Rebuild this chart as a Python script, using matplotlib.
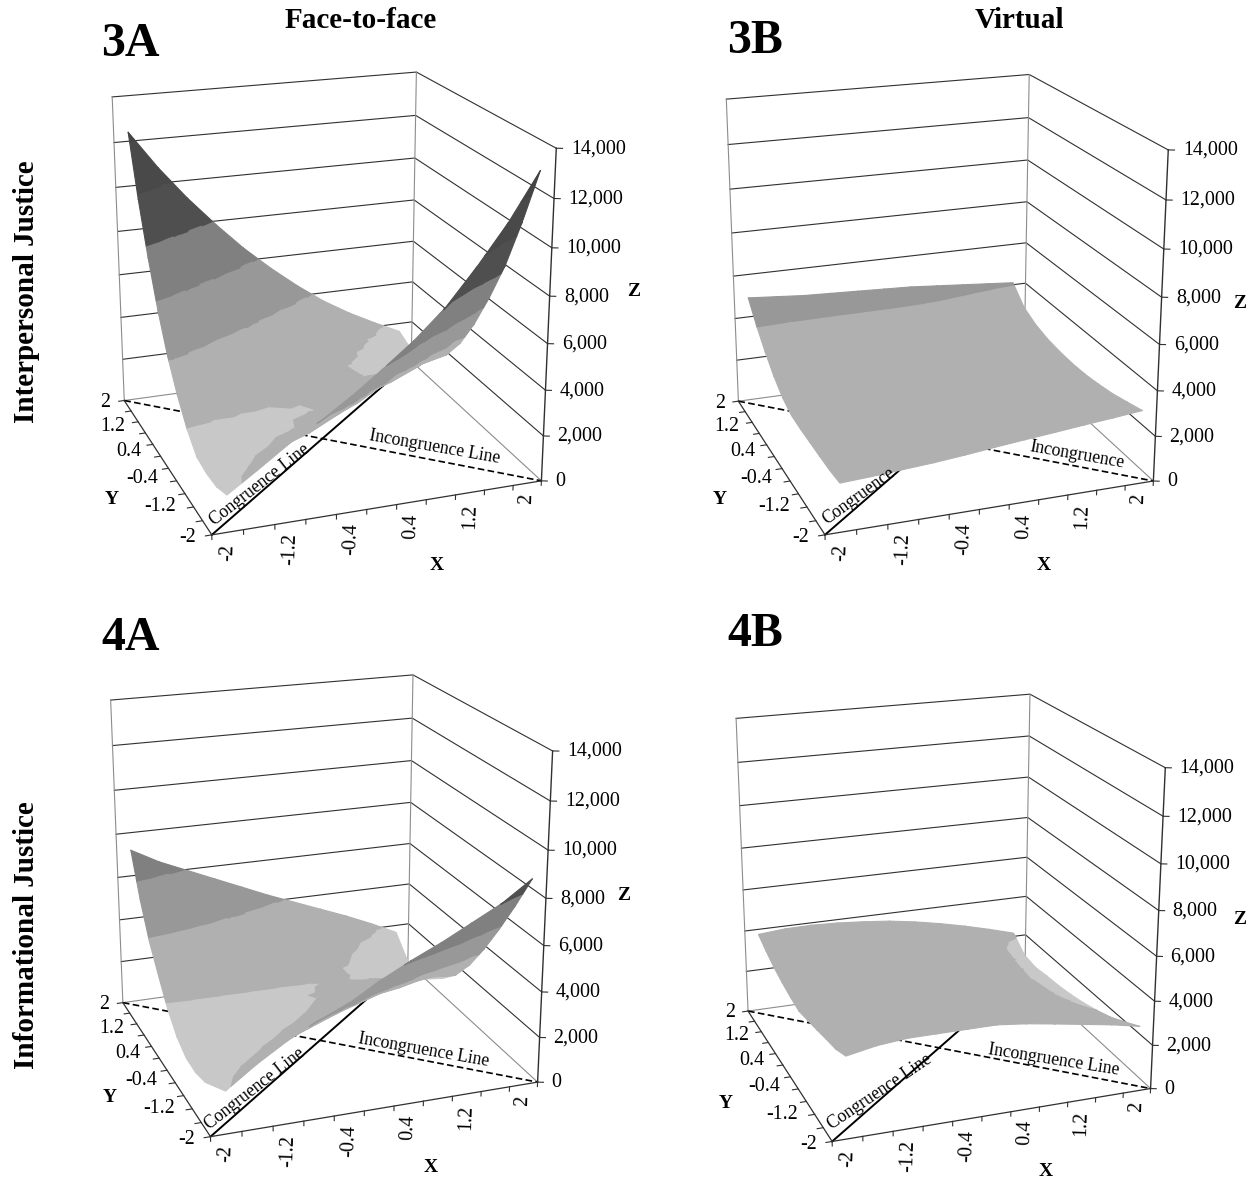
import numpy as np
import matplotlib
matplotlib.use("Agg")
import matplotlib.pyplot as plt
from mpl_toolkits.mplot3d import proj3d
from mpl_toolkits.mplot3d.art3d import Poly3DCollection

plt.rcParams["font.family"] = ["Liberation Serif", "DejaVu Serif"]

W, H = 1254, 1181

# Data
x_vals = [-2, -1.6, -1.2, -0.8, -0.4, 0, 0.4, 0.8, 1.2, 1.6, 2]
# the series axis runs corner to corner, so y sits on the box edges
y_vals = [-2.2, -1.76, -1.32, -0.88, -0.44, 0, 0.44, 0.88, 1.32, 1.76, 2.2]
axis_labels = ["-2", "-1.2", "-0.4", "0.4", "1.2", "2"]
x_label_vals = [-2, -1.2, -0.4, 0.4, 1.2, 2]
y_label_vals = [-2.2, -1.32, -0.44, 0.44, 1.32, 2.2]
z_ticks = [0, 2000, 4000, 6000, 8000, 10000, 12000, 14000]
z_labels = ["0", "2,000", "4,000", "6,000", "8,000", "10,000", "12,000", "14,000"]
band_colors = ["#c8c8c8", "#b0b0b0", "#989898", "#808080", "#4f4f4f", "#494949", "#444444"]

# rows run y = -2 .. 2, columns x = -2 .. 2
z_3a = [
    [1580, 2450, 3350, 4100, 4950, 5900, 6900, 8080, 9580, 11230, 13180],
    [1290, 1950, 2550, 3000, 3650, 4440, 5440, 6590, 7840, 9190, 10690],
    [1240, 1540, 1990, 2390, 2790, 3340, 4090, 4990, 5990, 7140, 8440],
    [1350, 1450, 1650, 1900, 2250, 2650, 3145, 3745, 4495, 5445, 6595],
    [2000, 1800, 1800, 1800, 1950, 2100, 2395, 2795, 3345, 4045, 4945],
    [2950, 2450, 2200, 2100, 2050, 2100, 2150, 2350, 2650, 3000, 3550],
    [4150, 3450, 2900, 2450, 2250, 2150, 2050, 1990, 2000, 2200, 2500],
    [5700, 4800, 4000, 3300, 2750, 2400, 2150, 1950, 1750, 1700, 1800],
    [7600, 6450, 5400, 4500, 3700, 3050, 2550, 2150, 1850, 1550, 1300],
    [9800, 8400, 7150, 6000, 5000, 4100, 3300, 2650, 2150, 1700, 1250],
    [12400, 10700, 9200, 7850, 6600, 5500, 4500, 3600, 2850, 2200, 1600],
]
z_3b = [
    [2090, 2160, 2250, 2340, 2460, 2600, 2730, 2850, 2980, 3100, 3230],
    [2020, 2080, 2159, 2242, 2353, 2481, 2600, 2706, 2820, 2926, 3040],
    [2010, 2020, 2086, 2161, 2261, 2377, 2485, 2575, 2672, 2762, 2860],
    [2010, 2015, 2061, 2132, 2223, 2328, 2426, 2502, 2586, 2662, 2745],
    [2010, 2010, 2056, 2123, 2207, 2304, 2395, 2459, 2530, 2594, 2665],
    [2050, 2078, 2116, 2179, 2257, 2345, 2428, 2481, 2539, 2592, 2650],
    [2300, 2310, 2329, 2377, 2438, 2506, 2570, 2601, 2635, 2666, 2700],
    [2750, 2728, 2712, 2730, 2758, 2792, 2823, 2816, 2811, 2804, 2800],
    [3350, 3320, 3300, 3300, 3300, 3300, 3280, 3220, 3150, 3070, 3000],
    [4050, 4000, 3970, 3950, 3940, 3930, 3900, 3830, 3700, 3550, 3350],
    [4900, 4800, 4700, 4650, 4600, 4550, 4500, 4400, 4300, 4200, 4100],
]
z_4a = [
    [1830, 2750, 3550, 4200, 4750, 5500, 6150, 6730, 7380, 8030, 8890],
    [1390, 2140, 2740, 3250, 3740, 4250, 4740, 5290, 5890, 6540, 7290],
    [940, 1490, 2100, 2500, 2940, 3340, 3740, 4140, 4640, 5140, 5790],
    [745, 1045, 1595, 2040, 2320, 2650, 2995, 3195, 3495, 3895, 4395],
    [780, 1000, 1250, 1650, 1980, 2200, 2450, 2595, 2745, 2895, 3145],
    [1150, 1250, 1400, 1600, 1800, 2020, 2150, 2250, 2300, 2250, 2150],
    [1850, 1900, 1920, 1940, 1950, 1970, 2050, 1950, 1800, 1600, 1450],
    [2850, 2650, 2500, 2400, 2300, 2200, 2100, 1950, 1600, 1250, 900],
    [3900, 3650, 3350, 3100, 2850, 2650, 2400, 2150, 1800, 1250, 650],
    [5350, 4950, 4550, 4100, 3700, 3300, 2900, 2500, 2100, 1650, 800],
    [7190, 6500, 5950, 5400, 4850, 4300, 3800, 3300, 2800, 2250, 1650],
]
z_4b = [
    [3610, 3860, 3980, 3985, 3985, 3985, 3840, 3640, 3430, 3220, 2960],
    [3310, 3445, 3562, 3635, 3650, 3608, 3496, 3325, 3104, 2871, 2590],
    [3160, 3282, 3377, 3427, 3418, 3356, 3224, 3033, 2795, 2540, 2240],
    [2995, 3115, 3202, 3239, 3220, 3149, 3008, 2811, 2566, 2395, 1995],
    [2845, 2967, 3047, 3076, 3048, 2972, 2826, 2624, 2377, 2195, 1795],
    [2700, 2829, 2908, 2932, 2901, 2825, 2679, 2478, 2232, 2060, 1650],
    [2800, 2916, 2974, 2973, 2919, 2823, 2657, 2437, 2172, 2000, 1550],
    [2950, 3053, 3089, 3065, 2987, 2871, 2685, 2445, 2163, 2030, 1500],
    [3150, 3231, 3239, 3182, 3074, 2929, 2714, 2448, 2139, 2080, 1420],
    [3420, 3494, 3486, 3412, 3286, 3127, 2898, 2618, 2298, 2150, 1550],
    [3750, 3860, 3880, 3830, 3730, 3600, 3400, 3150, 2860, 2530, 2170],
]

# view fitted to the box corners of each panel: elev, azim, focal, x aspect, y aspect, scale, cx, cy
view_3a = [19.510, -109.811, 0.593, 0.9988, 0.9899, 3046.2, 322.31, 284.87]
view_3b = [19.498, -109.787, 0.589, 0.9995, 0.9881, 3030.2, 935.36, 286.06]
view_4a = [19.674, -109.984, 0.590, 0.9958, 0.9836, 3028.3, 319.85, 887.27]
view_4b = [19.667, -109.880, 0.583, 1.0000, 0.9861, 2937.8, 939.08, 899.65]

LO, HI = -2.2, 2.2


def clip(poly, level, above):
    out = []
    for i in range(len(poly)):
        p, q = poly[i], poly[(i + 1) % len(poly)]
        p_in = p[2] >= level if above else p[2] <= level
        q_in = q[2] >= level if above else q[2] <= level
        if p_in:
            out.append(p)
        if p_in != q_in:
            t = (level - p[2]) / (q[2] - p[2])
            out.append(tuple(p[k] + t * (q[k] - p[k]) for k in range(3)))
    return out


def band_polys(zz):
    # split each grid triangle at the 2,000 steps so the grey bands follow z
    zz = np.array(zz, float)
    polys, colors = [], []
    n = len(x_vals)
    for j in range(n - 1):
        for i in range(n - 1):
            a = (x_vals[i], y_vals[j], zz[j, i])
            b = (x_vals[i + 1], y_vals[j], zz[j, i + 1])
            c = (x_vals[i + 1], y_vals[j + 1], zz[j + 1, i + 1])
            d = (x_vals[i], y_vals[j + 1], zz[j + 1, i])
            for tri in ([a, b, d], [b, c, d]):
                for k, col in enumerate(band_colors):
                    part = clip(tri, z_ticks[k], True)
                    if len(part) > 2:
                        part = clip(part, z_ticks[k + 1], False)
                    if len(part) > 2:
                        polys.append(part)
                        colors.append(col)
    return polys, colors


def put(ax, x, y, z, s, **kw):
    # text in the flat axes coordinates, so rotation is kept
    tx, ty, _ = proj3d.proj_transform(x, y, z, ax.get_proj())
    ax.text2D(tx, ty, s, transform=ax.transData, **kw)


def draw_panel(zz, view):
    elev, azim, focal, xa, ya, k, cx, cy = view
    s = k / 5.405
    left = cx - 0.0025 * k - s / 2
    top = cy + 0.0025 * k - s / 2
    ax = fig.add_axes([left / W, 1 - (top + s) / H, s / W, s / H], projection="3d")
    ax.set_xlim(LO, HI)
    ax.set_ylim(LO, HI)
    ax.set_zlim(0, 14000)
    ax.view_init(elev, azim, 0)
    ax.set_proj_type("persp", focal_length=focal)
    ax.set_box_aspect((xa, ya, 1))
    ax.set_axis_off()
    ax.patch.set_alpha(0)
    ax.computed_zorder = False

    gray = "#8c8c8c"
    dark = "#303030"
    # back walls
    for z in z_ticks[1:]:
        ax.plot([LO, HI, HI], [HI, HI, LO], [z, z, z], color=dark, lw=0.8, zorder=1)
    ax.plot([LO, LO], [HI, HI], [0, 14000], color=gray, lw=0.8, zorder=1)
    ax.plot([HI, HI], [HI, HI], [0, 14000], color=gray, lw=0.8, zorder=1)
    ax.plot([LO, HI, HI], [HI, HI, LO], [0, 0, 0], color=gray, lw=0.8, zorder=1)

    # floor lines
    ax.plot([LO, HI], [LO, HI], [0, 0], color="black", lw=1.4, zorder=2)
    ax.plot([LO, HI], [HI, LO], [0, 0], color="black", lw=1.2, ls=(0, (4, 2)), zorder=2)
    ax.plot([LO, HI], [LO, LO], [0, 0], color=dark, lw=0.9, zorder=2)
    ax.plot([LO, LO], [LO, HI], [0, 0], color=dark, lw=0.9, zorder=2)

    polys, colors = band_polys(zz)
    surf = Poly3DCollection(polys, facecolors=colors, edgecolors=colors, linewidths=0.8, zsort="average", zorder=3)
    ax.add_collection3d(surf)

    # z axis at the front right
    ax.plot([HI, HI], [LO, LO], [0, 14000], color=dark, lw=1.0, zorder=4)
    for z, lab in zip(z_ticks, z_labels):
        ax.plot([HI, HI + 0.068], [LO, LO - 0.031], [z, z], color=dark, lw=0.8, zorder=4)
        put(ax, HI + 0.16, LO - 0.075, z, lab, fontsize=14.4, ha="left", va="center")

    # x and y ticks, 11 categories so 12 marks
    marks = np.arange(12) * 0.4 + LO
    for m in marks:
        ax.plot([m, m], [LO, LO], [0, -200], color=dark, lw=0.8, zorder=4)
        ax.plot([LO, LO - 0.08], [m, m], [0, 0], color=dark, lw=0.8, zorder=4)
    for v, lab in zip(x_label_vals, axis_labels):
        put(ax, v, LO, -480, lab, fontsize=14.4, rotation=88, ha="center", va="top")
    for v, lab in zip(y_label_vals, axis_labels):
        put(ax, LO - 0.2, v, 0, lab, fontsize=14.4, ha="right", va="center")
    return ax


def label(px, py, s, **kw):
    fig.text(px / W, 1 - py / H, s, **kw)


fig = plt.figure(figsize=(W / 100, H / 100), dpi=100)
fig.patch.set_facecolor("white")

draw_panel(z_3a, view_3a)
draw_panel(z_3b, view_3b)
draw_panel(z_4a, view_4a)
draw_panel(z_4b, view_4b)

# headers
label(361, 20, "Face-to-face", fontsize=21, fontweight="bold", ha="center", va="center")
label(1019, 20, "Virtual", fontsize=21, fontweight="bold", ha="center", va="center")
label(27, 292, "Interpersonal Justice", fontsize=21, fontweight="bold", rotation=90, ha="center", va="center")
label(27, 935, "Informational Justice", fontsize=21, fontweight="bold", rotation=90, ha="center", va="center")

panel_names = ["3A", "3B", "4A", "4B"]
name_x = [101, 727, 101, 727]
name_y = [44, 41, 638, 634]
for s, px, py in zip(panel_names, name_x, name_y):
    label(px, py, s, fontsize=34.5, fontweight="bold", ha="left", va="center")

letter_x = [437, 1044, 431, 1046]
letter_xy = [566, 566, 1167, 1172]
letter_y = [112, 720, 110, 726]
letter_yy = [500, 500, 1098, 1103]
letter_z = [634, 1240, 624, 1240]
letter_zy = [292, 303, 895, 919]
for i in range(4):
    label(letter_x[i], letter_xy[i], "X", fontsize=14, fontweight="bold", ha="center", va="center")
    label(letter_y[i], letter_yy[i], "Y", fontsize=14, fontweight="bold", ha="center", va="center")
    label(letter_z[i], letter_zy[i], "Z", fontsize=14, fontweight="bold", ha="center", va="center")

# line names
cong_text = ["Congruence Line", "Congruence", "Congruence Line", "Congruence Line"]
cong_pos = [(215, 526), (827, 525), (210, 1130), (832, 1130)]
cong_rot = [38, 36, 38, 34]
incong_text = ["Incongruence Line", "Incongruence", "Incongruence Line", "Incongruence Line"]
incong_pos = [(369, 440), (1029, 451), (358, 1043), (988, 1054)]
incong_rot = [-10, -10, -10, -9]
for i in range(4):
    label(cong_pos[i][0], cong_pos[i][1], cong_text[i], fontsize=12.7, rotation=cong_rot[i],
          rotation_mode="anchor", ha="left", va="baseline")
    label(incong_pos[i][0], incong_pos[i][1], incong_text[i], fontsize=12.7, rotation=incong_rot[i],
          rotation_mode="anchor", ha="left", va="baseline")

fig.savefig("out.png", dpi=100)
